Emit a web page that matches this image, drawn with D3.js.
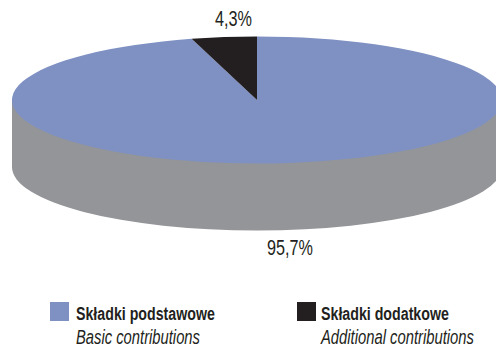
<!DOCTYPE html>
<html>
<head>
<meta charset="utf-8">
<script src="https://cdn.jsdelivr.net/npm/d3@7"></script>
<style>
  html, body { margin: 0; padding: 0; background: #fff; }
  svg { display: block; }
  text { font-family: "Liberation Sans", sans-serif; fill: #231f20; }
</style>
</head>
<body>
<svg id="chart" width="496" height="349"></svg>
<script>
const categories = ['Składki podstawowe', 'Składki dodatkowe'];
const subLabels = ['Basic contributions', 'Additional contributions'];
const values = [95.7, 4.3];
const valueLabels = ['95,7%', '4,3%'];
const colors = ['#7f91c3', '#231f20'];
const sideColor = '#939598';

const svg = d3.select('#chart');
const cx = 257, cy = 100, rx = 245, ry = 63.5, depth = 67;

// pie is a circle squashed in y, the side is the same disc moved down
const pie = d3.pie().sort(null).value(d => d);
const arc = d3.arc().innerRadius(0).outerRadius(rx);
const squash = ry / rx;

const side = svg.append('g');
side.append('ellipse')
  .attr('cx', cx).attr('cy', cy + depth)
  .attr('rx', rx).attr('ry', ry)
  .attr('fill', sideColor);
side.append('rect')
  .attr('x', cx - rx).attr('y', cy)
  .attr('width', rx * 2).attr('height', depth)
  .attr('fill', sideColor);

svg.append('g')
  .attr('transform', 'translate(' + cx + ',' + cy + ') scale(1,' + squash + ')')
  .selectAll('path')
  .data(pie(values))
  .enter().append('path')
  .attr('d', arc)
  .attr('fill', (d, i) => colors[i]);

// the original face is condensed, so squeeze each text to its width
function squeeze(sel, x, y, width) {
  sel.attr('transform', function(d, i) {
    const k = width[i] / this.getComputedTextLength();
    return 'translate(' + x[i] + ',' + y + ') scale(' + k + ',1)';
  });
}

// value labels
const labelX = [267, 215];
const labelY = [255, 26];
const labelWidth = [46, 37];
svg.selectAll('.val')
  .data(valueLabels)
  .enter().append('text')
  .attr('class', 'val')
  .attr('font-size', 22)
  .text(d => d)
  .attr('transform', function(d, i) {
    const k = labelWidth[i] / this.getComputedTextLength();
    return 'translate(' + labelX[i] + ',' + labelY[i] + ') scale(' + k + ',1)';
  });

// legend
const swatchX = [50, 297];
const legendTextX = [76, 321];
const boldWidth = [139, 128];
const italicWidth = [124, 153];
svg.selectAll('.swatch')
  .data(categories)
  .enter().append('rect')
  .attr('class', 'swatch')
  .attr('x', (d, i) => swatchX[i]).attr('y', 302)
  .attr('width', 19).attr('height', 19)
  .attr('fill', (d, i) => colors[i]);
svg.selectAll('.name')
  .data(categories)
  .enter().append('text')
  .attr('class', 'name')
  .attr('font-size', 19).attr('font-weight', 'bold')
  .text(d => d)
  .call(squeeze, legendTextX, 320, boldWidth);
svg.selectAll('.sub')
  .data(subLabels)
  .enter().append('text')
  .attr('class', 'sub')
  .attr('font-size', 20).attr('font-style', 'italic')
  .text(d => d)
  .call(squeeze, legendTextX, 344, italicWidth);
</script>
</body>
</html>
